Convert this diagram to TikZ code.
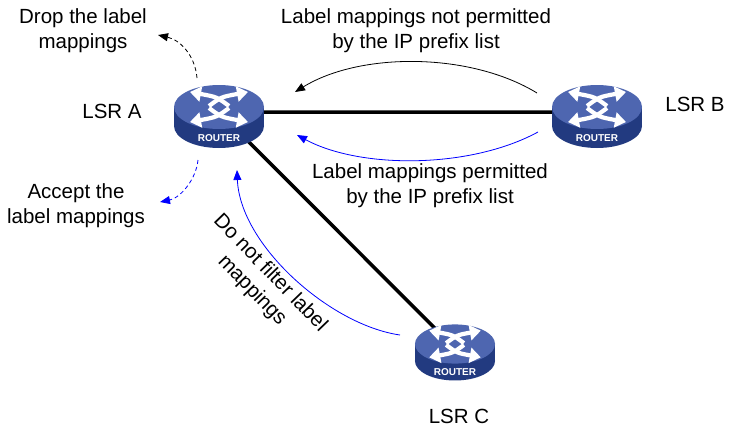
\documentclass[tikz,border=0pt]{standalone}
\usepackage{fontspec}
\setmainfont{Liberation Sans}
\usetikzlibrary{arrows.meta,backgrounds}
\definecolor{routertop}{RGB}{78,102,176}
\definecolor{routerside}{RGB}{34,58,128}
\begin{document}
\begin{tikzpicture}[x=1pt,y=-1pt,
    every node/.style={font=\fontsize{20.5}{25}\selectfont, align=center},
    link/.style={line width=3.5pt},
    note/.style={line width=0.8pt,-{Triangle[length=10pt,width=8pt]}},
    dashline/.style={dash pattern=on 4pt off 3pt},
    router/.pic={
        \fill[routerside] (-45,0) rectangle (45,19);
        \fill[routerside] (0,19) ellipse[x radius=45,y radius=22];
        \fill[routertop] (0,0) ellipse[x radius=45,y radius=22];
        \foreach \s/\t in {1/1,-1/1,1/-1,-1/-1}
            \draw[white,line width=4.2pt,-{Triangle[length=11pt,width=15pt]}]
                (\s*10,\t*-1) .. controls (\s*-2,\t*-10) .. (\s*-29,\t*-15);
        \node[text=white,font=\fontsize{10}{10}\selectfont\bfseries] at (0,31) {ROUTER};
        \coordinate (-c) at (0,5);
    }]
\useasboundingbox (0,0) rectangle (730,436);
\pic (A) at (219,107) {router};
\pic (B) at (597,107) {router};
\pic[scale=0.89] (C) at (455,344) {router};
\begin{scope}[on background layer]
\draw[link] (A-c) -- (B-c) (A-c) -- (C-c);
\end{scope}
\node (lsra) at (112,111) {LSR A};
\node (lsrb) at (695,104) {LSR B};
\node (lsrc) at (459,416) {LSR C};
\node (drop) at (83,31) {Drop the label\\mappings};
\node (accept) at (76,206) {Accept the\\label mappings};
\node (notperm) at (416,31) {Label mappings not permitted\\by the IP prefix list};
\node (perm) at (430,186) {Label mappings permitted\\by the IP prefix list};
\node[rotate=-46] (nofilter) at (261,282) {Do not filter label\\mappings};
\coordinate (dropfrom) at (197,78);
\coordinate (dropto) at (158,35);
\coordinate (accfrom) at (198,160);
\coordinate (accto) at (160,202);
\coordinate (bhigh) at (537,93);
\coordinate (ahigh) at (295,92);
\coordinate (blow) at (538,132);
\coordinate (alow) at (297,135);
\coordinate (cside) at (400,335);
\coordinate (aside) at (237,170);
\draw[note,dashline] (dropfrom) .. controls (195,55) and (180,40) .. (dropto);
\draw[note,dashline,blue] (accfrom) .. controls (196,180) and (180,198) .. (accto);
\draw[note] (bhigh) .. controls (470,52) and (360,52) .. (ahigh);
\draw[note,blue] (blow) .. controls (470,169) and (360,169) .. (alow);
\draw[note,blue] (cside) .. controls (330,325) and (240,245) .. (aside);
\end{tikzpicture}
\end{document}
